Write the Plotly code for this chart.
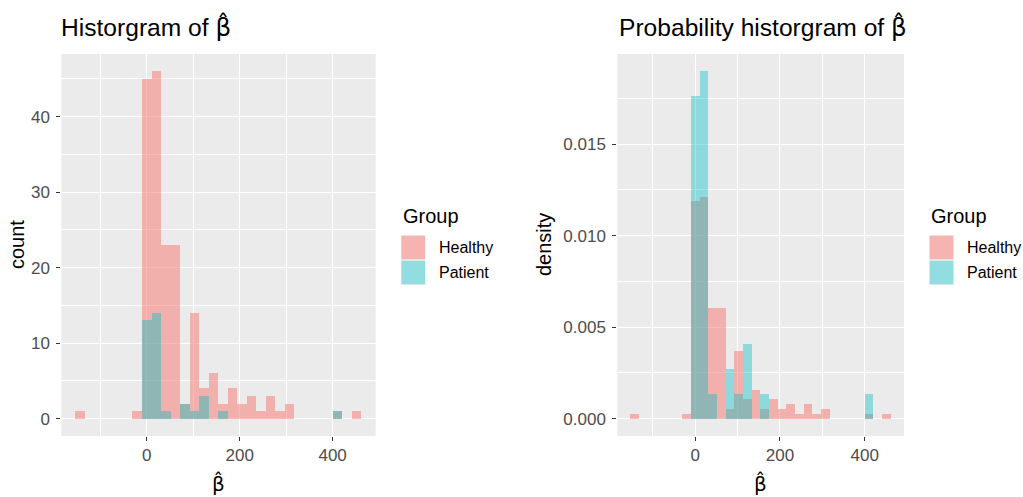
import plotly.graph_objects as go

# ---- data ----
bin_centers = [-142.85, -122.35, -101.85, -81.35, -60.85, -40.35, -19.85, 0.65,
               21.15, 41.65, 62.15, 82.65, 103.15, 123.65, 144.15, 164.65,
               185.15, 205.65, 226.15, 246.65, 267.15, 287.65, 308.15, 328.65,
               349.15, 369.65, 390.15, 410.65, 431.15, 451.65]
bin_width = 20.5
healthy_counts = [1, 0, 0, 0, 0, 0, 1, 45, 46, 23, 23, 2, 14, 4, 6, 2, 4, 2, 3, 1,
                  3, 1, 2, 0, 0, 0, 0, 1, 0, 1]
patient_counts = [0, 0, 0, 0, 0, 0, 0, 13, 14, 1, 0, 2, 1, 3, 0, 1, 0, 0, 0, 0,
                  0, 0, 0, 0, 0, 0, 0, 1, 0, 0]
groups = ["Healthy", "Patient"]
group_colors = {"Healthy": "rgba(248,118,109,0.5)", "Patient": "rgba(0,191,196,0.4)"}
x_ticks = [0, 200, 400]
count_ticks = [0, 10, 20, 30, 40]
density_ticks = [0.0, 0.005, 0.010, 0.015]

W, H = 1023, 497
FONT = "Liberation Sans, Arial, Helvetica, sans-serif"
BETA_HAT = "<span style='font-family:DejaVu Sans'>β\u0302</span>"


def px(x):
    return x / W


def py(y):
    return 1 - y / H


healthy_density = [c / (sum(healthy_counts) * bin_width) for c in healthy_counts]
patient_density = [c / (sum(patient_counts) * bin_width) for c in patient_counts]

fig = go.Figure()
for name, ys in (("Healthy", healthy_counts), ("Patient", patient_counts)):
    fig.add_trace(go.Bar(x=bin_centers, y=ys, width=bin_width, name=name,
                         marker=dict(color=group_colors[name], line=dict(width=0)),
                         showlegend=False, xaxis="x", yaxis="y"))
for name, ys in (("Healthy", healthy_density), ("Patient", patient_density)):
    fig.add_trace(go.Bar(x=bin_centers, y=ys, width=bin_width, name=name,
                         marker=dict(color=group_colors[name], line=dict(width=0)),
                         showlegend=False, xaxis="x2", yaxis="y2"))

lo = bin_centers[0] - bin_width / 2
hi = bin_centers[-1] + bin_width / 2
xr = [lo - 0.05 * (hi - lo), hi + 0.05 * (hi - lo)]
cmax = max(max(healthy_counts), max(patient_counts))
dmax = max(max(healthy_density), max(patient_density))

tickfont = dict(family=FONT, size=17, color="#4D4D4D")
common = dict(showgrid=True, gridcolor="white", gridwidth=1.2, zeroline=False,
              showline=False, ticks="outside", ticklen=4, tickwidth=1.1,
              tickcolor="#333333", tickfont=tickfont, fixedrange=True)
minor_style = dict(showgrid=True, gridcolor="white", gridwidth=0.6, ticks="")

ydom = [py(436), py(54)]
fig.update_layout(
    width=W, height=H, autosize=False,
    margin=dict(l=0, r=0, t=0, b=0),
    paper_bgcolor="white", plot_bgcolor="#EBEBEB",
    barmode="overlay", bargap=0,
    font=dict(family=FONT, color="black"),
    xaxis=dict(domain=[px(61.3), px(375.7)], range=xr, anchor="y",
               tickvals=x_ticks, ticktext=[str(v) for v in x_ticks],
               minor=dict(dtick=100, tick0=0, **minor_style), **common),
    yaxis=dict(domain=ydom, range=[-0.05 * cmax, 1.05 * cmax], anchor="x",
               tickvals=count_ticks, ticktext=[str(v) for v in count_ticks],
               ticklabelstandoff=3,
               minor=dict(dtick=5, tick0=0, **minor_style), **common),
    xaxis2=dict(domain=[px(617.3), px(904.0)], range=xr, anchor="y2",
                tickvals=x_ticks, ticktext=[str(v) for v in x_ticks],
                minor=dict(dtick=100, tick0=0, **minor_style), **common),
    yaxis2=dict(domain=ydom, range=[-0.05 * dmax, 1.05 * dmax], anchor="x2",
                tickvals=density_ticks, ticktext=[f"{v:.3f}" for v in density_ticks],
                ticklabelstandoff=3,
                minor=dict(dtick=0.0025, tick0=0, **minor_style), **common),
)

ann = []


def text(t, x, y, size, xanchor="center", angle=0, color="black"):
    ann.append(dict(text=t, x=px(x), y=py(y), xanchor=xanchor, yanchor="middle",
                    textangle=angle, font=dict(size=size, family=FONT, color=color)))


text("Historgram of " + BETA_HAT, 233, 27, 24.6, xanchor="right")
text("Probability historgram of " + BETA_HAT, 909, 27, 24.6, xanchor="right")
for xc in ((61.3 + 375.7) / 2, (617.3 + 904.0) / 2):
    text(BETA_HAT, xc, 483, 20)
text("count", 17, 245, 20, angle=-90)
text("density", 544, 245, 20, angle=-90)

shapes = []
for lx in (400.7, 929.0):
    text("Group", lx, 216, 20, xanchor="left")
    for i, g in enumerate(groups):
        y0 = 235 + i * 25
        shapes.append(dict(type="rect", xref="paper", yref="paper",
                           x0=px(lx), x1=px(lx + 25), y0=py(y0 + 25), y1=py(y0),
                           fillcolor="#F2F2F2", line=dict(width=0)))
        shapes.append(dict(type="rect", xref="paper", yref="paper",
                           x0=px(lx + 0.7), x1=px(lx + 24.3), y0=py(y0 + 24.3), y1=py(y0 + 0.7),
                           fillcolor=group_colors[g], line=dict(width=0)))
        text(g, lx + 36, y0 + 12.5, 16, xanchor="left")

for a in ann:
    a.update(xref="paper", yref="paper", showarrow=False)
fig.update_layout(annotations=ann, shapes=shapes)

fig.write_html("out.html")
